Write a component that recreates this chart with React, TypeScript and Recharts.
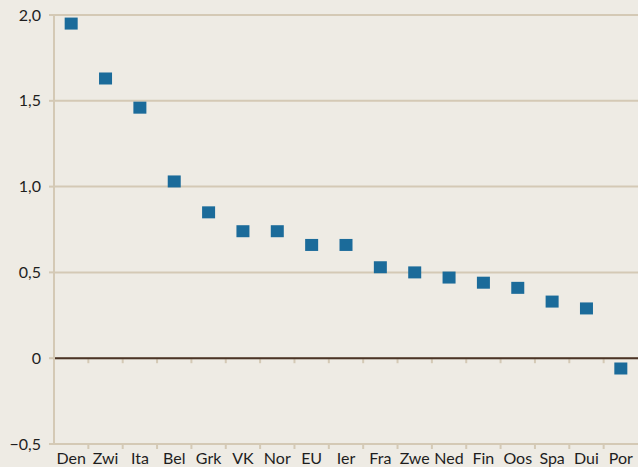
import React from 'react'
import {
  ComposedChart,
  Line,
  XAxis,
  YAxis,
  CartesianGrid,
  ReferenceLine,
} from 'recharts'

const countries = ['Den', 'Zwi', 'Ita', 'Bel', 'Grk', 'VK', 'Nor', 'EU', 'Ier', 'Fra', 'Zwe', 'Ned', 'Fin', 'Oos', 'Spa', 'Dui', 'Por']
const values = [1.95, 1.63, 1.46, 1.03, 0.85, 0.74, 0.74, 0.66, 0.66, 0.53, 0.5, 0.47, 0.44, 0.41, 0.33, 0.29, -0.06]
const yTicks = [-0.5, 0, 0.5, 1, 1.5, 2]

const BG = '#eeebe4'
const GRID = '#d4c9b5'
const ZERO = '#4b3427'
const MARK = '#1b6b9a'
const TEXT = '#1e1e1e'
const FONT = 'Lato, sans-serif'

const data = countries.map((name, i) => ({ name, value: values[i] }))

const fmtY = (v: number) => {
  if (v === 0) return '0'
  const s = Math.abs(v).toFixed(1).replace('.', ',')
  return v < 0 ? '\u2212' + s : s
}

// square marker
const Square = (props: any) => {
  const { cx, cy, index } = props
  if (cx == null || cy == null) return null
  return <rect key={index} x={cx - 6.5} y={cy - 6} width={13} height={12} fill={MARK} />
}

// horizontal line with small downward ticks at category boundaries
const tickedLine = (color: string, width: number) => (props: any) => {
  const { x1, y1, x2, y2 } = props
  const n = countries.length
  const step = (x2 - x1) / n
  const ticks = []
  for (let i = 1; i < n; i++) {
    const x = x1 + i * step
    ticks.push(<line key={i} x1={x} x2={x} y1={y1} y2={y1 + 5} stroke={GRID} strokeWidth={2} />)
  }
  return (
    <g>
      {ticks}
      <line x1={x1} y1={y1} x2={x2} y2={y2} stroke={color} strokeWidth={width} />
    </g>
  )
}

const XTick = (props: any) => {
  const { x, y, payload } = props
  return (
    <text x={x} y={y + 12} textAnchor="middle" fill={TEXT} fontSize={16} fontFamily={FONT}>
      {payload.value}
    </text>
  )
}

export default function App() {
  return (
    <div style={{ position: 'absolute', left: 0, top: 0, width: 638, height: 467, background: BG }}>
      <ComposedChart
        width={638}
        height={467}
        data={data}
        margin={{ top: 15, right: 0, bottom: 0, left: 0 }}
      >
        <CartesianGrid horizontal vertical={false} stroke={GRID} strokeWidth={2} />
        <XAxis
          dataKey="name"
          type="category"
          scale="band"
          height={23}
          axisLine={false}
          tickLine={false}
          interval={0}
          tick={<XTick />}
        />
        <YAxis
          type="number"
          domain={[-0.5, 2]}
          ticks={yTicks}
          width={54}
          tickFormatter={fmtY}
          axisLine={{ stroke: GRID, strokeWidth: 2 }}
          tickLine={{ stroke: GRID, strokeWidth: 2 }}
          tickSize={5}
          tickMargin={8}
          tick={{ fill: TEXT, fontSize: 16, fontFamily: FONT }}
        />
        <ReferenceLine y={-0.5} shape={tickedLine(GRID, 2)} />
        <ReferenceLine y={0} shape={tickedLine(ZERO, 2)} />
        <Line
          dataKey="value"
          stroke="none"
          dot={<Square />}
          activeDot={false}
          isAnimationActive={false}
        />
      </ComposedChart>
    </div>
  )
}
